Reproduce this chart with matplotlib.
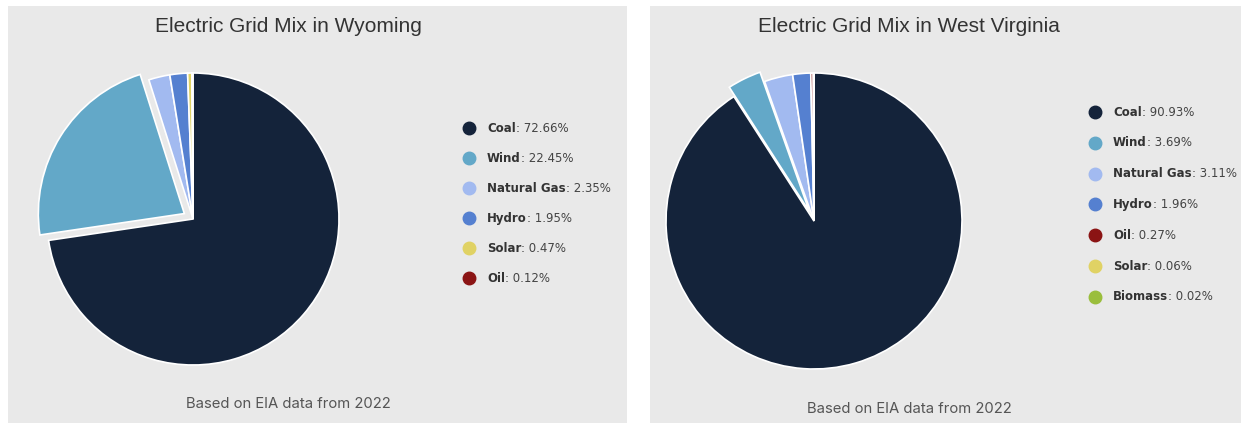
import matplotlib.pyplot as plt
from matplotlib.patches import Rectangle
from matplotlib.text import Annotation
from matplotlib.lines import Line2D

# --- data ---
wy_labels = ["Coal", "Wind", "Natural Gas", "Hydro", "Solar", "Oil"]
wy_values = [72.66, 22.45, 2.35, 1.95, 0.47, 0.12]
wy_colors = ["#14233a", "#63a8c8", "#a2baf0", "#5580d0", "#e0d264", "#8b1414"]

wv_labels = ["Coal", "Wind", "Natural Gas", "Hydro", "Oil", "Solar", "Biomass"]
wv_values = [90.93, 3.69, 3.11, 1.96, 0.27, 0.06, 0.02]
wv_colors = ["#14233a", "#63a8c8", "#a2baf0", "#5580d0", "#8b1414", "#e0d264", "#9abe3c"]

W, H = 1241, 423
BG = "#e9e9e9"

fig = plt.figure(figsize=(W / 100, H / 100), dpi=100)
fig.patch.set_facecolor("white")

# fond gris des deux panneaux
for x0, x1 in [(8, 627), (650, 1241)]:
    fig.patches.append(Rectangle((x0 / W, 0), (x1 - x0) / W, (H - 6) / H,
                                 transform=fig.transFigure, facecolor=BG,
                                 edgecolor="none", zorder=-10))


def fx(px):
    return px / W


def fy(py):
    return 1 - py / H


def draw_panel(title, labels, values, colors, cx, cy, R, title_x, leg_x, leg_y0, leg_dy, sub_y):
    h = 1.2 * R
    ax = fig.add_axes([fx(cx - h), fy(cy + h), 2 * h / W, 2 * h / H])
    ax.set_axis_off()
    explode = [0.07 if lab == "Wind" else 0 for lab in labels]
    ax.pie(values, colors=colors, startangle=90, counterclock=False,
           explode=explode, radius=1,
           wedgeprops=dict(edgecolor="white", linewidth=1.2))
    ax.set_xlim(-h / R, h / R)
    ax.set_ylim(-h / R, h / R)
    ax.set_aspect("equal")

    fig.text(fx(title_x), fy(27), title, ha="center", va="center",
             fontsize=15, color="#333333", family="Liberation Sans")
    fig.text(fx(title_x), fy(sub_y), "Based on EIA data from 2022", ha="center",
             va="center", fontsize=10.7, color="#555555", family="Inter")

    # légende manuelle
    for i, (lab, val, col) in enumerate(zip(labels, values, colors)):
        y = leg_y0 + i * leg_dy
        fig.add_artist(Line2D([fx(leg_x)], [fy(y)], marker="o", markersize=9,
                              color=col, transform=fig.transFigure))
        t = fig.text(fx(leg_x + 18), fy(y), lab, ha="left", va="center",
                     fontsize=8.5, fontweight="bold", color="#333333")
        fig.add_artist(Annotation(": %.2f%%" % val, xy=(1, 0.5), xycoords=t,
                                  ha="left", va="center", fontsize=8.5,
                                  color="#444444", annotation_clip=False))


draw_panel("Electric Grid Mix in Wyoming", wy_labels, wy_values, wy_colors,
           193, 219, 146, 288, 469, 128, 30, 404)
draw_panel("Electric Grid Mix in West Virginia", wv_labels, wv_values, wv_colors,
           814, 221, 148, 909, 1095, 112, 30.8, 409)

fig.savefig("out.png", dpi=100, facecolor="white")
